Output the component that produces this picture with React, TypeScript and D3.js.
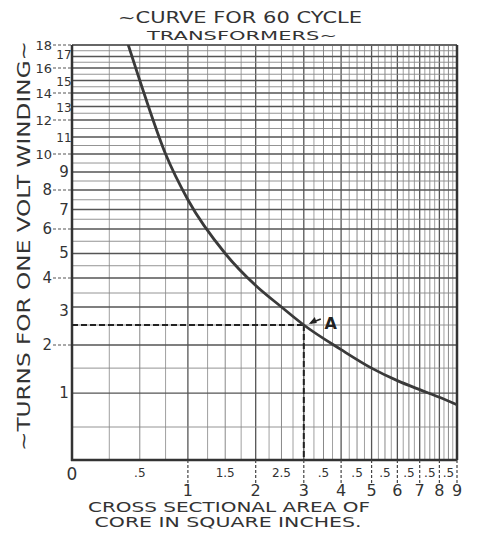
import React from 'react';
import * as d3 from 'd3';

// ---- data ----
const areaValues = [0.4, 0.5, 0.75, 1, 1.5, 2, 2.5, 3, 4, 5, 6, 7, 8, 9];
const turnsValues = [18, 15, 10, 7.5, 5, 3.75, 3, 2.5, 1.9, 1.5, 1.25, 1.07, 0.94, 0.83];
const xMajorTicks = [1, 2, 3, 4, 5, 6, 7, 8, 9];
const xHalfTicks = [0.5, 1.5, 2.5, 3.5, 4.5, 5.5, 6.5, 7.5, 8.5];
const xHalfLabels = ['.5', '1.5', '2.5', '.5', '.5', '.5', '.5', '.5', '.5'];
const yEvenTicks = [2, 4, 6, 8, 10, 12, 14, 16, 18];
const yOddTicks = [1, 3, 5, 7, 9, 11, 13, 15, 17];
const markerArea = 3;
const markerTurns = 2.5;

// ---- layout ----
const W = 483, H = 534;
const L = 72, R = 457, T = 45, B = 460;
// the printed y ruling is hand-spaced: knots of the scale
const yKnots = [0, 0.5, 1, 1.5, 2, 2.5, 3, 3.5, 4, 6, 8, 10, 12, 14, 16, 18];
const yKnotFrac = [0, 0.0795, 0.161, 0.2214, 0.2771, 0.3253, 0.3687, 0.4024, 0.4386, 0.5566, 0.6506, 0.7373, 0.8193, 0.8843, 0.9446, 1];

const INK = '#333';
const FONT = '"DejaVu Sans", "Liberation Sans", sans-serif';

export default function App() {
  const xLog = d3.scaleLog().domain([1, 10]).range([L, R]);
  const x = (a: number) => xLog(a + 1);
  const y = d3.scaleLinear().domain(yKnots).range(yKnotFrac.map(f => B - f * (B - T)));

  const vLines = d3.range(0, 9.001, 0.25);
  const hLines = d3.range(0, 18.001, 0.5);

  const pts: [number, number][] = areaValues.map((a, i) => [x(a), y(turnsValues[i])]);
  const line = d3.line().curve(d3.curveMonotoneX)(pts) || '';

  const mx = x(markerArea), my = y(markerTurns);

  return (
    <svg width={W} height={H} viewBox={`0 0 ${W} ${H}`} style={{ position: 'absolute', left: 0, top: 0, background: '#fff' }}>
      <defs>
        <clipPath id="plot"><rect x={L} y={T} width={R - L} height={B - T} /></clipPath>
      </defs>
      {/* title */}
      <text x={240} y={23} textAnchor="middle" fontFamily={FONT} fontSize={16} fill={INK} textLength={244} lengthAdjust="spacingAndGlyphs">~CURVE FOR 60 CYCLE</text>
      <text x={242} y={40} textAnchor="middle" fontFamily={FONT} fontSize={13} fill={INK} textLength={190} lengthAdjust="spacingAndGlyphs">TRANSFORMERS~</text>

      {/* grid */}
      <g>
        {vLines.map((a, i) => {
          const isInt = Math.abs(a - Math.round(a)) < 1e-6;
          const isHalf = Math.abs(a * 2 - Math.round(a * 2)) < 1e-6;
          return <line key={'v' + i} x1={x(a)} x2={x(a)} y1={T} y2={B} stroke={isInt ? '#555' : '#888'} strokeWidth={isInt ? 1.3 : isHalf ? 1 : 0.8} />;
        })}
        {hLines.map((t, i) => {
          const isInt = Math.abs(t - Math.round(t)) < 1e-6;
          return <line key={'h' + i} x1={L} x2={R} y1={y(t)} y2={y(t)} stroke={isInt ? '#555' : '#888'} strokeWidth={isInt ? 1.3 : 0.9} />;
        })}
      </g>

      {/* frame */}
      <line x1={L} x2={R} y1={T} y2={T} stroke="#666" strokeWidth={2} />
      <line x1={R} x2={R} y1={T} y2={B} stroke={INK} strokeWidth={2.5} />
      <line x1={L} x2={L} y1={T} y2={B + 1} stroke={INK} strokeWidth={2.5} />
      <line x1={L - 1} x2={R} y1={B} y2={B} stroke={INK} strokeWidth={2.5} />

      {/* dashed marker lines */}
      <line x1={L} x2={mx} y1={my} y2={my} stroke="#222" strokeWidth={2.2} strokeDasharray="6,3" />
      <line x1={mx} x2={mx} y1={my} y2={B} stroke="#222" strokeWidth={2} strokeDasharray="6,3" />

      {/* curve */}
      <path d={line} fill="none" stroke="#3a3a3a" strokeWidth={2.8} clipPath="url(#plot)" strokeLinecap="round" />

      {/* A annotation */}
      <line x1={mx + 17} x2={mx + 7} y1={my - 6} y2={my - 2} stroke="#222" strokeWidth={1.8} />
      <path d={`M${mx + 5},${my - 1} L${mx + 11},${my - 8} L${mx + 13},${my - 2} Z`} fill="#222" />
      <text x={mx + 27} y={my + 4} textAnchor="middle" fontFamily={FONT} fontWeight="bold" fontSize={16} fill="#222">A</text>

      {/* y ticks */}
      {yEvenTicks.map(t => (
        <g key={'ye' + t}>
          <line x1={53} x2={L} y1={y(t)} y2={y(t)} stroke="#555" strokeWidth={1.2} strokeDasharray="3,2" />
          <text x={52} y={y(t) + 5} textAnchor="end" fontFamily={FONT} fontSize={t >= 10 ? 13 : 15} fill={INK}>{t}</text>
        </g>
      ))}
      {yOddTicks.map(t => {
        const yy = t === 1 ? y(1) : t === 17 ? y(17) - 2 : (y(t - 1) + y(t + 1)) / 2;
        return (
          <text key={'yo' + t} x={64} y={yy + 5} textAnchor="middle" fontFamily={FONT} fontSize={t >= 10 ? 12 : 15} fill={INK}>{t}</text>
        );
      })}

      {/* x ticks */}
      <text x={L} y={480} textAnchor="middle" fontFamily={FONT} fontSize={17} fill={INK}>0</text>
      {xHalfTicks.map((a, i) => (
        <text key={'xh' + i} x={x(a)} y={477} textAnchor="middle" fontFamily={FONT} fontSize={12} fill={INK}>{xHalfLabels[i]}</text>
      ))}
      {xMajorTicks.map(a => (
        <g key={'xm' + a}>
          <line x1={x(a)} x2={x(a)} y1={B} y2={483} stroke="#444" strokeWidth={1.2} strokeDasharray="3,2" />
          <text x={x(a)} y={496} textAnchor="middle" fontFamily={FONT} fontSize={16} fill={INK}>{a}</text>
        </g>
      ))}

      {/* axis titles */}
      <text x={229} y={512} textAnchor="middle" fontFamily={FONT} fontSize={14} fill={INK} textLength={282} lengthAdjust="spacingAndGlyphs">CROSS SECTIONAL AREA OF</text>
      <text x={228} y={527} textAnchor="middle" fontFamily={FONT} fontSize={14} fill={INK} textLength={267} lengthAdjust="spacingAndGlyphs">CORE IN SQUARE INCHES.</text>
      <text transform={`translate(30, 246) rotate(-90)`} textAnchor="middle" fontFamily={FONT} fontSize={18} fill={INK} textLength={410} lengthAdjust="spacingAndGlyphs">~TURNS FOR ONE VOLT WINDING~</text>
    </svg>
  );
}
